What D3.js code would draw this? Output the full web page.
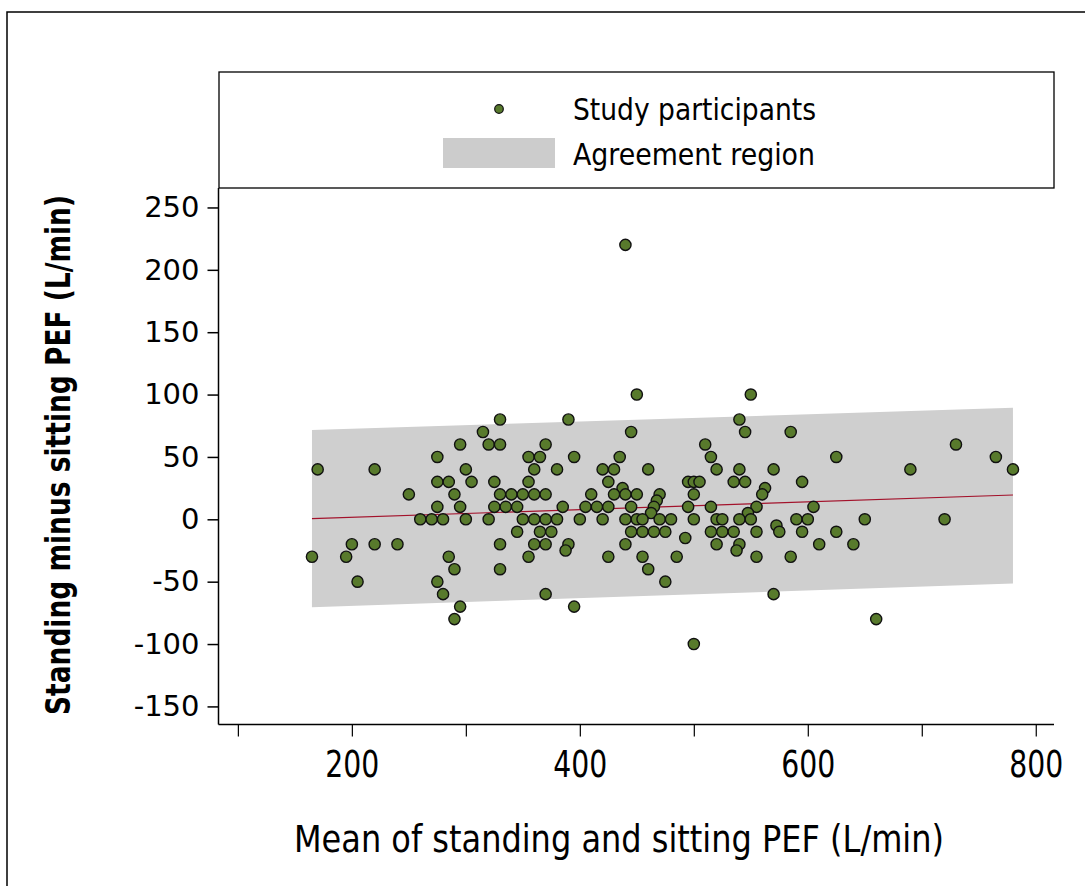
<!DOCTYPE html>
<html>
<head>
<meta charset="utf-8">
<script src="https://cdn.jsdelivr.net/npm/d3@7"></script>
<style>
    body { margin: 0; background: #fff; }
    svg { display: block; }
</style>
</head>
<body>
<script>
//data
//mean of standing and sitting PEF (x) and standing minus sitting PEF (y)
var meanPEF = [
    170, 165, 200, 195, 205, 220, 220, 240, 250, 260, 270, 280, 275, 275, 285, 275, 290, 285, 290, 275, 280, 295, 295, 295, 290,
    330, 390, 315, 445, 320, 330, 370, 510, 355, 365, 395, 435, 515,
    300, 360, 380, 420, 430, 460, 520, 305, 325, 355, 425, 495, 500, 505, 437.5,
    330, 340, 350, 360, 370, 410, 430, 440, 450, 470, 500, 467.5, 465, 462.5,
    325, 335, 345, 385, 405, 415, 425, 445, 495, 515,
    300, 320, 350, 360, 370, 380, 400, 420, 440, 450, 455, 470, 480, 500,
    345, 365, 375, 445, 455, 465, 475, 515, 492.5,
    330, 360, 370, 390, 440, 520, 387.5, 355, 425, 455, 485, 330, 460, 475, 370, 395, 500,
    440, 450,
    550, 540, 545, 585, 730, 625, 765, 540, 570, 690, 780, 535, 545, 595, 562.5, 560, 555, 605, 547.5,
    520, 525, 540, 550, 590, 600, 650, 720, 572.5, 525, 535, 555, 575, 595, 625,
    540, 610, 640, 537.5, 555, 585, 570, 660
];
var diffPEF = [
    40, -30, -20, -30, -50, 40, -20, -20, 20, 0, 0, 0, 50, 30, 30, 10, 20, -30, -40, -50, -60, 60, 10, -70, -80,
    80, 80, 70, 70, 60, 60, 60, 60, 50, 50, 50, 50, 50,
    40, 40, 40, 40, 40, 40, 40, 30, 30, 30, 30, 30, 30, 30, 25,
    20, 20, 20, 20, 20, 20, 20, 20, 20, 20, 20, 15, 10, 5,
    10, 10, 10, 10, 10, 10, 10, 10, 10, 10,
    0, 0, 0, 0, 0, 0, 0, 0, 0, 0, 0, 0, 0, 0,
    -10, -10, -10, -10, -10, -10, -10, -10, -15,
    -20, -20, -20, -20, -20, -20, -25, -30, -30, -30, -30, -40, -40, -50, -60, -70, -100,
    220, 100,
    100, 80, 70, 70, 60, 50, 50, 40, 40, 40, 40, 30, 30, 30, 25, 20, 10, 10, 5,
    0, 0, 0, 0, 0, 0, 0, 0, -5, -10, -10, -10, -10, -10, -10,
    -20, -20, -20, -25, -30, -30, -60, -80
];

//agreement region and mean difference line (ends of the band)
var bandX = [165, 780];
var bandUpper = [71.5, 89.5];
var bandLower = [-70.5, -51.5];
var meanDiff = [0.5, 19.5];

var xTicks = [100, 200, 300, 400, 500, 600, 700, 800];
var xTickLabels = ["", "200", "", "400", "", "600", "", "800"];
var yTicks = [-150, -100, -50, 0, 50, 100, 150, 200, 250];

var legendLabels = ["Study participants", "Agreement region"];

window.onload = function(){

    var w = 1085, h = 886;
    var narrow = "'Liberation Sans Narrow', 'DejaVu Sans Condensed', 'Open Sans', sans-serif";

    var svg = d3.select("body")
        .append("svg")
        .attr("width", w)
        .attr("height", h);

    //frame of the figure (only top and left edges are visible)
    svg.append("path")
        .attr("d", "M7," + h + "V12H" + w)
        .style("fill", "none")
        .style("stroke", "#000")
        .style("stroke-width", 1.5);

    //plot area
    var left = 218.5, right = 1054, top = 188, bottom = 724.5;

    var x = d3.scaleLinear()
        .domain([83, 816])
        .range([left, right]);

    var y = d3.scaleLinear()
        .domain([-164.5, 265.6])
        .range([bottom, top]);

    //agreement region
    var band = bandX.map(function(d, i){
        return { x: d, lo: bandLower[i], hi: bandUpper[i] };
    });
    svg.append("path")
        .datum(band)
        .attr("d", d3.area()
            .x(function(d){ return x(d.x); })
            .y0(function(d){ return y(d.lo); })
            .y1(function(d){ return y(d.hi); }))
        .style("fill", "#cfcfcf");

    //mean difference line
    svg.append("path")
        .datum(bandX.map(function(d, i){ return [d, meanDiff[i]]; }))
        .attr("d", d3.line()
            .x(function(d){ return x(d[0]); })
            .y(function(d){ return y(d[1]); }))
        .style("fill", "none")
        .style("stroke", "#a3122b")
        .style("stroke-width", 1.2);

    //points
    svg.selectAll(".dots")
        .data(meanPEF)
        .enter()
        .append("circle")
        .attr("class", "dots")
        .attr("cx", function(d){ return x(d); })
        .attr("cy", function(d, i){ return y(diffPEF[i]); })
        .attr("r", 5.6)
        .style("fill", "#587a2c")
        .style("stroke", "#111")
        .style("stroke-width", 1.4);

    //y axis
    var yAxis = d3.axisLeft(y)
        .tickValues(yTicks)
        .tickSize(11)
        .tickPadding(8)
        .tickSizeOuter(0)
        .tickFormat(function(d){ return String(d); }); //plain hyphen, like the figure
    var gy = svg.append("g")
        .attr("class", "axis")
        .attr("transform", "translate(" + left + ",0)")
        .call(yAxis);
    gy.select(".domain").attr("d", "M0," + top + "V" + bottom);
    gy.selectAll("line, path").style("stroke", "#000").style("stroke-width", 1.5);
    gy.selectAll("text")
        .style("font-family", "'DejaVu Sans', Verdana, sans-serif")
        .style("font-size", "29px")
        .style("fill", "#000");

    //x axis
    var xAxis = d3.axisBottom(x)
        .tickValues(xTicks)
        .tickSize(12)
        .tickSizeOuter(0)
        .tickFormat(function(d, i){ return xTickLabels[i]; });
    var gx = svg.append("g")
        .attr("class", "axis")
        .attr("transform", "translate(0," + bottom + ")")
        .call(xAxis);
    gx.select(".domain").attr("d", "M" + left + ",0H" + right);
    gx.selectAll("line").style("stroke", "#000").style("stroke-width", 1.2);
    gx.select(".domain").style("stroke", "#000").style("stroke-width", 1.5);
    gx.selectAll("text")
        .attr("y", 52)
        .attr("dy", 0)
        .attr("textLength", function(d, i){ return xTickLabels[i] ? 54 : null; })
        .attr("lengthAdjust", "spacingAndGlyphs")
        .style("font-family", narrow)
        .style("font-size", "38px")
        .style("fill", "#000");

    //axis titles
    svg.append("text")
        .attr("x", 619)
        .attr("y", 852)
        .attr("text-anchor", "middle")
        .attr("textLength", 650)
        .attr("lengthAdjust", "spacingAndGlyphs")
        .style("font-family", narrow)
        .style("font-size", "37px")
        .text("Mean of standing and sitting PEF (L/min)");

    svg.append("text")
        .attr("transform", "translate(70,455) rotate(-90)")
        .attr("text-anchor", "middle")
        .attr("textLength", 520)
        .attr("lengthAdjust", "spacingAndGlyphs")
        .style("font-family", "'DejaVu Sans', Verdana, sans-serif")
        .style("font-weight", "bold")
        .style("font-size", "34px")
        .text("Standing minus sitting PEF (L/min)");

    //legend box
    svg.append("rect")
        .attr("x", 219)
        .attr("y", 72)
        .attr("width", 835)
        .attr("height", 116)
        .style("fill", "#fff")
        .style("stroke", "#000")
        .style("stroke-width", 1.3);

    svg.append("circle")
        .attr("cx", 499)
        .attr("cy", 109)
        .attr("r", 4.3)
        .style("fill", "#587a2c")
        .style("stroke", "#111")
        .style("stroke-width", 1.2);

    svg.append("rect")
        .attr("x", 443)
        .attr("y", 138)
        .attr("width", 112)
        .attr("height", 30)
        .style("fill", "#cccccc");

    svg.selectAll(".legendText")
        .data(legendLabels)
        .enter()
        .append("text")
        .attr("class", "legendText")
        .attr("x", 573)
        .attr("y", function(d, i){ return 120 + i * 45; })
        .attr("textLength", function(d, i){ return i === 0 ? 243 : 242; })
        .attr("lengthAdjust", "spacingAndGlyphs")
        .style("font-family", narrow)
        .style("font-size", "31px")
        .text(function(d){ return d; });
};
</script>
</body>
</html>
